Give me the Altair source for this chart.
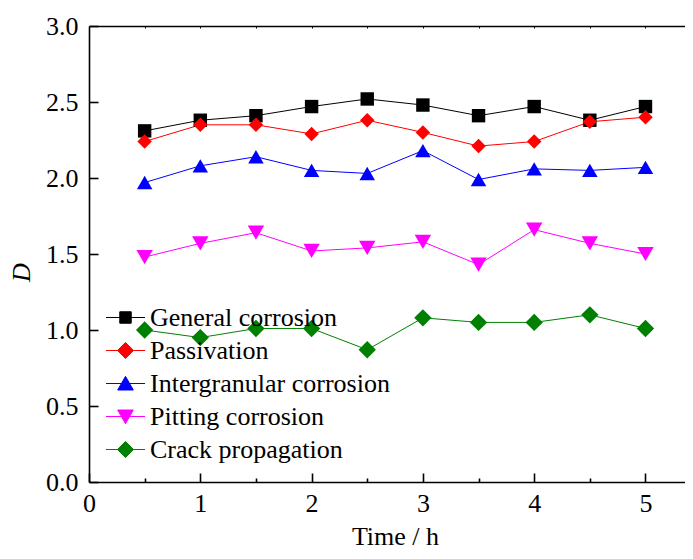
import altair as alt
import pandas as pd

# ---- data ----
times = [0.5, 1.0, 1.5, 2.0, 2.5, 3.0, 3.5, 4.0, 4.5, 5.0]
series_names = ["General corrosion", "Passivation", "Intergranular corrosion",
                "Pitting corrosion", "Crack propagation"]
general = [2.31, 2.38, 2.41, 2.47, 2.52, 2.48, 2.41, 2.47, 2.38, 2.47]
passivation = [2.24, 2.35, 2.35, 2.29, 2.38, 2.30, 2.21, 2.24, 2.37, 2.40]
intergranular = [1.97, 2.08, 2.14, 2.05, 2.03, 2.18, 1.99, 2.06, 2.05, 2.07]
pitting = [1.48, 1.57, 1.64, 1.52, 1.54, 1.58, 1.43, 1.66, 1.57, 1.50]
crack = [1.00, 0.95, 1.01, 1.01, 0.87, 1.08, 1.05, 1.05, 1.10, 1.01]

colors = ["#000000", "#FF0000", "#0000FF", "#FF00FF", "#008000"]
shapes = ["square", "diamond", "triangle-up", "triangle-down", "diamond"]
sizes = [180, 300, 280, 280, 300]
# legend symbols: a short line with the marker on it (unit = half symbol size)
legend_shapes = [
    "M-1.5,0H1.5M-0.44,-0.44H0.44V0.44H-0.44Z",
    "M-1.5,0H1.5M-0.62,0L0,-0.62L0.62,0L0,0.62Z",
    "M-1.5,0H1.5M-0.6,0.5L0.6,0.5L0,-0.55Z",
    "M-1.5,0H1.5M-0.6,-0.5L0.6,-0.5L0,0.55Z",
    "M-1.5,0H1.5M-0.62,0L0,-0.62L0.62,0L0,0.62Z",
]

x_major = [0, 1, 2, 3, 4, 5]
x_minor = [0.5, 1.5, 2.5, 3.5, 4.5]
x_half = [0.5, 1, 1.5, 2, 2.5, 3, 3.5, 4, 4.5, 5]
y_vals = [0.0, 0.5, 1.0, 1.5, 2.0, 2.5, 3.0]

all_values = [general, passivation, intergranular, pitting, crack]
rows = []
for name, vals in zip(series_names, all_values):
    for t, v in zip(times, vals):
        rows.append({"time": t, "D": v, "series": name})
df = pd.DataFrame(rows)

W, H = 596, 456
FONT = "Liberation Serif"
xscale = alt.Scale(domain=[0, 5.355], nice=False, zero=False)
yscale = alt.Scale(domain=[0, 3.0], nice=False, zero=False)
color_scale = alt.Scale(domain=series_names, range=colors)

base = alt.Chart(df)

line = base.mark_line(strokeWidth=1).encode(
    x=alt.X("time:Q", scale=xscale,
            axis=alt.Axis(orient="bottom", values=x_major, format="d", title="Time / h",
                          ticks=False, tickSize=0, labelPadding=8, labelFontSize=26,
                          labelFlush=False, labelOverlap=False,
                          labelFont=FONT, labelColor="black", titleFont=FONT,
                          titleFontSize=26, titleFontWeight="normal", titleColor="black",
                          titleX=306, titleY=62, titleBaseline="alphabetic",
                          titleAlign="center", domainColor="black", domainWidth=1.6)),
    y=alt.Y("D:Q", scale=yscale,
            axis=alt.Axis(orient="left", values=y_vals, format=".1f", title="D",
                          ticks=False, tickSize=0, labelPadding=11, labelFontSize=26,
                          labelFlush=False, labelOverlap=False,
                          labelFont=FONT, labelColor="black", titleFont=FONT,
                          titleFontSize=26, titleFontStyle="italic",
                          titleFontWeight="normal", titleColor="black",
                          titleX=-60, titleY=246, titleAngle=270,
                          titleBaseline="alphabetic", titleAlign="center",
                          domainColor="black", domainWidth=1.6)),
    color=alt.Color("series:N", scale=color_scale, legend=None),
)

points = base.mark_point(filled=True, opacity=1).encode(
    x=alt.X("time:Q", scale=xscale,
            axis=alt.Axis(orient="top", ticks=False, labels=False, title=None,
                          domain=True, domainColor="black", domainWidth=1.6)),
    y=alt.Y("D:Q", scale=yscale,
            axis=alt.Axis(orient="right", offset=-W, values=y_vals, ticks=True,
                          tickSize=9, tickColor="black", tickWidth=1.6,
                          labels=False, domain=False, title=None)),
    color=alt.Color("series:N", scale=color_scale, legend=None),
    shape=alt.Shape("series:N", scale=alt.Scale(domain=series_names, range=shapes),
                    legend=None),
    size=alt.Size("series:N", scale=alt.Scale(domain=series_names, range=sizes),
                  legend=None),
)

leg = alt.Legend(orient="none", legendX=23, legendY=278, title=None,
                 symbolSize=676, symbolStrokeWidth=1, symbolOpacity=1,
                 labelFont=FONT, labelFontSize=26, labelColor="black",
                 labelOffset=11, rowPadding=6, padding=0, labelLimit=500)

legend_layer = base.mark_point(filled=True, opacity=1, strokeWidth=1).encode(
    x=alt.X("time:Q", scale=xscale, axis=None),
    y=alt.Y("D:Q", scale=yscale, axis=None),
    shape=alt.Shape("series:N", scale=alt.Scale(domain=series_names, range=legend_shapes),
                    legend=leg),
    fill=alt.Fill("series:N", scale=alt.Scale(domain=series_names, range=colors),
                  legend=leg),
    stroke=alt.Stroke("series:N", scale=alt.Scale(domain=series_names, range=colors),
                      legend=leg),
).transform_filter("false")

ticks_major = base.mark_point(opacity=0).encode(
    x=alt.X("time:Q", scale=xscale,
            axis=alt.Axis(orient="top", offset=-H, values=x_major, ticks=True,
                          tickSize=9, tickColor="black", tickWidth=1.6,
                          labels=False, domain=False, title=None)),
    y=alt.Y("D:Q", scale=yscale, axis=None),
)

ticks_minor = base.mark_point(opacity=0).encode(
    x=alt.X("time:Q", scale=xscale,
            axis=alt.Axis(orient="top", offset=-H, values=x_minor, ticks=True,
                          tickSize=4, tickColor="black", tickWidth=1.6,
                          labels=False, domain=False, title=None)),
    y=alt.Y("D:Q", scale=yscale, axis=None),
)

ticks_top = base.mark_point(opacity=0).encode(
    x=alt.X("time:Q", scale=xscale,
            axis=alt.Axis(orient="bottom", offset=-H, values=x_half, ticks=True,
                          tickSize=2, tickColor="black", tickWidth=1,
                          labels=False, domain=False, title=None)),
    y=alt.Y("D:Q", scale=yscale, axis=None),
)

chart = alt.layer(
    line, points, ticks_major, ticks_minor, ticks_top, legend_layer
).resolve_axis(
    x="independent", y="independent"
).resolve_scale(
    shape="independent", fill="independent", stroke="independent"
).properties(
    width=W, height=H,
    autosize=alt.AutoSizeParams(type="none"),
    padding={"left": 81, "top": 18, "right": 0, "bottom": 68},
    background="white",
).configure_view(stroke=None).configure_axis(grid=False)

chart.save("out.html", embed_options={"renderer": "svg", "actions": False})
